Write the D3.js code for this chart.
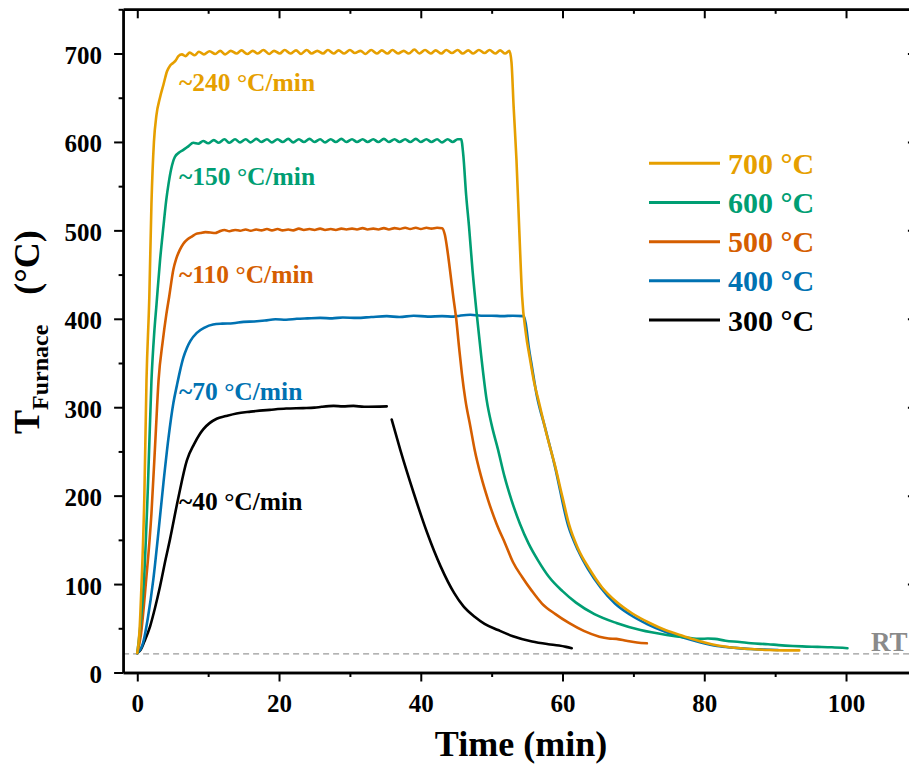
<!DOCTYPE html>
<html><head><meta charset="utf-8">
<script src="https://cdn.jsdelivr.net/npm/d3@7"></script>
<style>
html,body{margin:0;padding:0;background:#fff;}
svg{display:block;font-family:"Liberation Serif","Times New Roman",serif;font-weight:bold;}
</style></head><body>
<svg id="chart" width="909" height="765"></svg>
<script>
// ---------------- DATA ----------------
const seriesNames = ["700 °C", "600 °C", "500 °C", "400 °C", "300 °C"];
const rateLabels = ["~240 °C/min", "~150 °C/min", "~110 °C/min", "~70 °C/min", "~40 °C/min"];
const xMajorTicks = [0, 20, 40, 60, 80, 100];
const xMinorTicks = [10, 30, 50, 70, 90, 110];
const yMajorTicks = [0, 100, 200, 300, 400, 500, 600, 700];
const yMinorTicks = [50, 150, 250, 350, 450, 550, 650, 750];
const roomTemp = 21;

// [time (min), temperature (°C)]
const data700 = [[0,22],[0.3,45],[0.6,100],[1.0,200],[1.3,330],[1.7,425],[2.0,530],[2.35,600],[2.7,630],[3.2,650],[3.7,665],[4.2,680],[4.6,686],[5.0,689],[5.4,692],[5.8,697],[6.3,699],[6.8,697],
 [7.4,701],[8.1,698],[8.7,702],[9.4,699],[10.2,702.5],[11.0,699.5],[11.7,703],[12.4,699],[13.2,703],[14.0,700],
 [14.7,703.5],[15.5,699.5],[16.3,703],[17.0,700],[17.8,704],[18.6,699.5],[19.3,703],[20.1,700],[20.8,704],[21.6,700],
 [22.4,703.5],[23.1,699.5],[23.9,704],[24.6,700],[25.4,703],[26.2,700],[26.9,704],[27.7,700],[28.4,703.5],[29.2,700],
 [30.0,704],[30.7,700.5],[31.5,703],[32.2,699.5],[33.0,704],[33.8,700],[34.5,703.5],[35.3,700],[36.0,704],[36.8,700],
 [37.6,703],[38.3,700],[39.1,704.5],[39.8,700],[40.6,704],[41.4,700],[42.1,703.5],[42.9,700],[43.6,704],[44.4,700.5],
 [45.2,704],[45.9,700],[46.7,703.5],[47.4,700],[48.2,704],[49.0,700.5],[49.7,704],[50.5,700],[51.2,703.5],[51.9,700],[52.5,703],
 [52.8,690],[53.1,640],[53.5,580],[53.9,500],[54.3,425],[54.8,385],[55.4,355],[56.0,328],[56.6,308],[57.8,268],
 [59.0,232],[60.0,198],[60.9,168],[62.2,140],[63.8,117],[65.5,97],[67.6,80],[69.8,67],[72.3,56],[74.5,48],
 [77.1,41],[79.5,35],[81.9,30.5],[84.2,28],[86.6,26.5],[89.0,25.5],[91.2,25],[93.4,25]];

const data600 = [[0,22],[0.4,50],[0.95,105],[1.5,210],[2.0,330],[2.4,385],[2.7,415],[3.2,465],[3.7,505],[4.1,535],[4.4,552],[4.8,570],[5.3,583],[5.9,588],[6.5,591],[7.2,595],[7.9,599],[8.6,598],
 [9.3,601],[10.0,598.5],[10.8,602],[11.5,599],[12.3,603],[13.0,599],[13.8,603],[14.5,599.5],[15.3,603],[16.0,599.5],
 [16.8,603.5],[17.5,600],[18.3,603],[19.0,599.5],[19.8,603],[20.5,600],[21.3,603.5],[22.0,599.5],[22.8,603],[23.5,600],
 [24.3,603.5],[25.0,600],[25.8,603],[26.5,599.5],[27.3,603],[28.0,600],[28.8,603.5],[29.5,600],[30.3,603],[31.0,600],
 [31.8,603],[32.5,600],[33.3,603],[34.0,600],[34.8,603.5],[35.5,600],[36.3,603],[37.0,600],[37.8,603],[38.5,600],
 [39.3,603.5],[40.0,600],[40.8,603],[41.5,600],[42.3,603],[43.0,599.5],[43.8,603],[44.5,600],[45.2,603],[45.7,603],
 [46.0,585],[46.4,540],[46.8,505],[47.3,455],[47.9,405],[48.5,360],[49.3,308],[50.0,280],[50.9,252],[51.8,222],
 [52.8,195],[54.0,168],[55.2,146],[56.6,126],[58.1,108],[60.0,92],[61.9,79],[64.5,66],[67.6,56],[71.0,48],
 [74.7,42.5],[77.5,39.5],[79.5,38],[80.5,38.5],[81.5,38],[83.0,36],[85.0,34.5],[86.6,33],[89.0,32],[90.5,31],
 [92.5,30],[93.8,29.5],[96.0,29],[98.0,28.5],[100.2,27.5]];

const data500 = [[0,22],[0.5,42],[1.2,100],[2.0,180],[2.6,270],[3.0,330],[3.6,375],[4.1,405],[4.5,425],[5.1,456],[5.5,468],[6.0,478],[6.5,485],[7.1,490],[7.7,493],[8.3,496],[8.9,497],[9.6,498],[10.3,497.5],[11.0,497],[11.5,498.5],
 [12.3,500.5],[13.0,499],[13.8,500.5],[14.5,499.5],[15.3,501],[16.0,499.5],[16.8,501],[17.5,500],[18.3,501.5],[19.0,500],
 [19.8,501.5],[20.5,500],[21.3,501],[22.0,500],[22.8,502],[23.5,500.5],[24.3,501.5],[25.0,500.5],[25.8,502],[26.5,500.5],
 [27.3,501.5],[28.0,500.5],[28.8,502],[29.5,501],[30.3,502],[31.0,501],[31.8,502.5],[32.5,501],[33.3,502],[34.0,501],
 [34.8,502.5],[35.5,501],[36.3,502.5],[37.0,501.5],[37.8,503],[38.5,501.5],[39.3,503],[40.0,501.5],[40.8,503],[41.5,502],
 [42.3,503],[43.0,502.5],
 [43.4,495],[43.8,475],[44.2,450],[44.6,424],[45.0,400],[45.4,368],[45.8,338],[46.3,308],[47.0,278],[47.6,252],
 [48.5,222],[49.5,195],[50.7,168],[51.9,146],[53.0,125],[54.3,108],[55.7,92],[57.1,78],[59.0,66],[60.9,56],
 [63.0,47],[65.2,40.5],[66.5,38.5],[67.6,38],[69.0,36],[70.5,34],[71.9,33]];

const data400 = [[0,22],[0.8,33],[1.5,62],[2.26,105],[3.0,160],[3.7,215],[4.4,265],[5.1,305],[5.6,325],[6.0,340],[6.5,356],[7.0,367],[7.5,375],[8.4,384],[9.5,390],[10.7,393.5],
 [12.0,394.5],[13.5,395],[15.0,396.5],[16.5,397],[18.0,398],[19.5,399.5],[21.0,399],[22.5,400],[24.0,400.5],[25.8,401],
 [27.5,400.5],[29.0,401.5],[31.0,401],[33.0,402],[35.2,403],[37.0,402],[39.0,403.5],[41.0,402.5],[43.0,403],[44.6,402.5],
 [45.5,403.5],[47.0,404.5],[48.5,403.5],[50.0,403.5],[51.5,403],[53.0,403.5],[54.5,403],
 [54.8,395],[55.2,370],[55.7,345],[56.4,312],[57.5,278],[58.9,234],[60.8,166],[62.2,138],[63.6,117],[65.4,96],
 [67.4,78],[69.6,65],[72.0,54.5],[74.5,46],[77.0,39.5],[79.5,34],[81.8,30],[84.2,28],[86.5,26.5],[88.5,26],[90.4,25.5]];

const data300 = [[0,22],[0.5,26],[1.0,35],[1.8,52],[2.5,73],[3.2,97],[4.0,128],[4.6,150],[5.8,198],[7.0,240],[8.0,258],[8.85,270],[9.3,275],[10.2,282],[11.2,287],
 [12.5,290],[14.0,293],[16.0,295],[18.7,297],[21.0,298.5],[23.4,299],[25.0,299.5],[26.0,300.5],[27.7,301.5],[29.0,301],
 [30.5,301.5],[32.0,300.5],[35.2,301],
 [35.5,null],
 [35.9,286],[37.1,252],[39.0,203],[40.9,158],[42.8,120],[44.7,90],[46.0,75],[47.6,63],[49.0,55],[50.9,48],
 [53.0,41],[55.7,35],[58.0,32],[59.5,30.5],[60.5,29],[61.3,27.5]];

const seriesData = [data700, data600, data500, data400, data300];
const seriesColors = ["#E69F00", "#009E73", "#D55E00", "#0072B2", "#000000"];

// ---------------- CHART ----------------
const svg = d3.select("#chart");
const x = d3.scaleLinear().domain([-2, 110]).range([123.1, 916.9]);
const y = d3.scaleLinear().domain([0, 750]).range([672.5, 9.3]);
const FONT = "'Liberation Serif','Times New Roman',serif";

svg.append("defs").append("clipPath").attr("id", "plotclip")
  .append("rect").attr("x", x(-2)).attr("y", y(750)).attr("width", x(110) - x(-2)).attr("height", y(0) - y(750));

// room temperature reference
svg.append("line")
  .attr("x1", x(-2)).attr("x2", x(110)).attr("y1", y(roomTemp)).attr("y2", y(roomTemp))
  .attr("stroke", "#9a9a9a").attr("stroke-width", 1.3).attr("stroke-dasharray", "6,4");
svg.append("text").attr("x", 871).attr("y", 651).text("RT")
  .attr("font-size", 27).attr("font-weight", "bold").attr("fill", "#8a8a8a").attr("font-family", FONT);

// curves
const line = d3.line()
  .defined(d => d[1] != null)
  .x(d => x(d[0])).y(d => y(d[1]))
  .curve(d3.curveMonotoneX);

const gLines = svg.append("g").attr("clip-path", "url(#plotclip)");
for (let i = seriesData.length - 1; i >= 0; i--) {
  gLines.append("path").datum(seriesData[i])
    .attr("d", line).attr("fill", "none")
    .attr("stroke", seriesColors[i]).attr("stroke-width", 2.6)
    .attr("stroke-linejoin", "round").attr("stroke-linecap", "round");
}

// rate annotations
const rateBaselines = [91, 185, 283, 400, 510];
rateLabels.forEach((t, i) => {
  svg.append("text").attr("x", 179).attr("y", rateBaselines[i]).text(t)
    .attr("font-size", 25.5).attr("font-weight", "bold").attr("fill", seriesColors[i]).attr("font-family", FONT);
});

// axes
function styleAxis(g, w) {
  g.attr("font-family", FONT).attr("font-size", 25).attr("font-weight", "bold");
  g.select(".domain").attr("stroke", "#000").attr("stroke-width", w);
  g.selectAll(".tick line").attr("stroke", "#000").attr("stroke-width", 2);
  g.selectAll(".tick text").attr("fill", "#000");
}
// bottom
const gb = svg.append("g").attr("transform", `translate(0,${y(0)})`)
  .call(d3.axisBottom(x).tickValues(xMajorTicks).tickSize(9).tickPadding(13).tickSizeOuter(0).tickFormat(d3.format("d")));
styleAxis(gb, 2.4);
const gbm = svg.append("g").attr("transform", `translate(0,${y(0)})`)
  .call(d3.axisBottom(x).tickValues(xMinorTicks).tickSize(4.5).tickSizeOuter(0).tickFormat(""));
styleAxis(gbm, 2.4);
// top
const gt = svg.append("g").attr("transform", `translate(0,${y(750)})`)
  .call(d3.axisTop(x).tickValues(xMajorTicks).tickSize(-9).tickSizeOuter(0).tickFormat(""));
styleAxis(gt, 2.4);
const gtm = svg.append("g").attr("transform", `translate(0,${y(750)})`)
  .call(d3.axisTop(x).tickValues(xMinorTicks).tickSize(-4.5).tickSizeOuter(0).tickFormat(""));
styleAxis(gtm, 2.4);
// left
const gl = svg.append("g").attr("transform", `translate(${x(-2)},0)`)
  .call(d3.axisLeft(y).tickValues(yMajorTicks).tickSize(9).tickPadding(12).tickSizeOuter(0).tickFormat(d3.format("d")));
styleAxis(gl, 2.4);
gl.selectAll(".tick text").attr("dy", "0.4em");
const glm = svg.append("g").attr("transform", `translate(${x(-2)},0)`)
  .call(d3.axisLeft(y).tickValues(yMinorTicks).tickSize(4.5).tickSizeOuter(0).tickFormat(""));
styleAxis(glm, 2.4);
// right
const gr = svg.append("g").attr("transform", `translate(${x(110)},0)`)
  .call(d3.axisRight(y).tickValues(yMajorTicks).tickSize(-9).tickSizeOuter(0).tickFormat(""));
styleAxis(gr, 2.4);
const grm = svg.append("g").attr("transform", `translate(${x(110)},0)`)
  .call(d3.axisRight(y).tickValues(yMinorTicks).tickSize(-4.5).tickSizeOuter(0).tickFormat(""));
styleAxis(grm, 2.4);

// axis titles
svg.append("text").attr("x", 521).attr("y", 756).attr("text-anchor", "middle")
  .attr("font-size", 36).attr("font-weight", "bold").attr("font-family", FONT).text("Time (min)");

const yt = svg.append("text").attr("transform", "translate(39,434) rotate(-90)")
  .attr("font-weight", "bold").attr("font-family", FONT).attr("font-size", 36);
yt.append("tspan").text("T");
yt.append("tspan").attr("font-size", 24).attr("dy", 9).text("Furnace");
yt.append("tspan").attr("dy", -9).attr("dx", 30).text("(°C)");

// legend
const legY = [163.3, 202.5, 241.7, 280.8, 320];
seriesNames.forEach((n, i) => {
  svg.append("line").attr("x1", 649).attr("x2", 720).attr("y1", legY[i]).attr("y2", legY[i])
    .attr("stroke", seriesColors[i]).attr("stroke-width", 3);
  svg.append("text").attr("x", 728).attr("y", legY[i] + 10.5).text(n)
    .attr("font-size", 30).attr("font-weight", "bold").attr("font-family", FONT).attr("fill", seriesColors[i]);
});
</script></body></html>
